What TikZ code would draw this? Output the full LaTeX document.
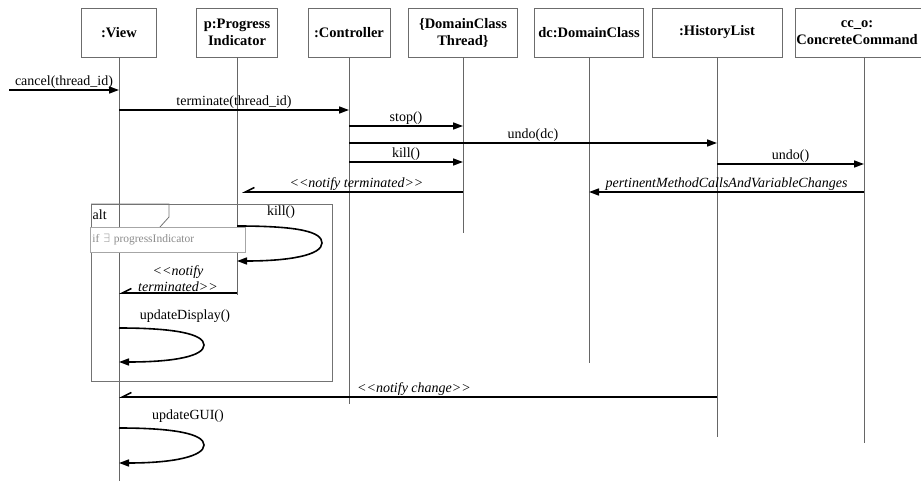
\documentclass[tikz,border=0pt]{standalone}
\usepackage{fontspec}
\setmainfont{Liberation Serif}
\usetikzlibrary{arrows.meta}

\tikzset{
  lifebox/.style={draw=gray!85!black, fill=white, line width=0.8pt, minimum height=49pt, inner sep=1pt, align=center, font=\fontsize{14.5}{17}\selectfont\bfseries},
  lifeline/.style={draw=gray!80!black, line width=0.8pt},
  msg/.style={line width=1.6pt, -{Triangle[length=10pt,width=7pt]}},
  ret/.style={line width=1.6pt, -{Straight Barb[harpoon,swap,length=9pt,width=9pt]}},
  lbl/.style={font=\fontsize{14}{16}\selectfont, inner sep=0.5pt},
  frame/.style={draw=gray!90!black, line width=0.8pt},
  guardbox/.style={draw=gray!70, fill=white, line width=0.8pt, anchor=north west, text width=151pt, inner xsep=2pt, inner ysep=0pt, minimum height=25pt, align=left, text=gray!90, font=\fontsize{11.5}{13}\selectfont}
}

\begin{document}
\begin{tikzpicture}[x=1pt, y=-1pt]
              \clip (0,0) rectangle (921,481);
              \node[lifebox, minimum width=75pt] (view) at (119,32.5) {:View};
              \node[lifebox, minimum width=81pt] (prog) at (237,32.5) {p:Progress\\Indicator};
              \node[lifebox, minimum width=82pt] (ctrl) at (349,32.5) {:Controller};
              \node[lifebox, minimum width=109pt] (thread) at (463,32.5) {\{DomainClass\\Thread\}};
              \node[lifebox, minimum width=109pt] (dc) at (589,32.5) {dc:DomainClass};
              \node[lifebox, minimum width=130pt] (hist) at (717,32.5) {:HistoryList};
              \node[lifebox, minimum width=138pt] (cmd) at (864,32.5) {cc\_o:\hspace*{14pt}\\ConcreteCommand\hspace*{14pt}};
              \draw[lifeline] (view.south) -- ++(0,424);
              \draw[lifeline] (prog.south) -- ++(0,238);
              \draw[lifeline] (ctrl.south) -- ++(0,347);
              \draw[lifeline] (thread.south) -- ++(0,176);
              \draw[lifeline] (dc.south) -- ++(0,306);
              \draw[lifeline] (hist.south) -- ++(0,380);
              \draw[lifeline] (cmd.south) -- ++(0,386);
              \draw[frame] (91,204) rectangle (332,381);
              \draw[frame] (91,204) -- (169,204) -- (169,217) -- (160,227);
              \node[lbl, anchor=west] (alt) at (92,215) {alt};
              \node[guardbox] (guard) at (90,227) {if $\exists$ progressIndicator};
              \coordinate (user) at (9,90);
              \draw[msg] (user) -- node[lbl, above] {cancel(thread\_id)} (view |- 0,90);
              \draw[msg] (view |- 0,110) -- node[lbl, above] {terminate(thread\_id)} (ctrl |- 0,110);
              \draw[msg] (ctrl |- 0,126) -- node[lbl, above] {stop()} (thread |- 0,126);
              \draw[msg] (ctrl |- 0,143) -- node[lbl, above] {undo(dc)} (hist |- 0,143);
              \draw[msg] (ctrl |- 0,162) -- node[lbl, above] {kill()} (thread |- 0,162);
              \draw[msg] (hist |- 0,164) -- node[lbl, above] {undo()} (cmd |- 0,164);
              \draw[ret] (thread |- 0,192) -- node[lbl, above, xshift=4pt] {\itshape <{}<notify terminated>{}>} ([xshift=5pt]prog |- 0,192);
              \draw[msg] (cmd |- 0,192) -- node[lbl, above] {\itshape pertinentMethodCallsAndVariableChanges} (dc |- 0,192);
              \draw[msg] (prog |- 0,226) .. controls (300,226) and (322,232) .. (322,243) .. controls (322,255) and (290,261) .. (prog |- 0,261);
              \node[lbl] (killlbl) at (281,212) {kill()};
              \draw[ret] (prog |- 0,293) -- node[lbl, above, align=center] {\itshape <{}<notify\\\itshape terminated>{}>} (view |- 0,293);
              \draw[msg] (view |- 0,328) .. controls (175,328) and (204,334) .. (204,345) .. controls (204,356) and (175,362) .. (view |- 0,362);
              \node[lbl] (displbl) at (185,316) {updateDisplay()};
              \draw[ret] (hist |- 0,397) -- node[lbl, above, xshift=-4pt] {\itshape <{}<notify change>{}>} (view |- 0,397);
              \draw[msg] (view |- 0,428) .. controls (175,428) and (204,434) .. (204,445) .. controls (204,456) and (175,463) .. (view |- 0,463);
              \node[lbl] (guilbl) at (188,416) {updateGUI()};
            \end{tikzpicture}
\end{document}
